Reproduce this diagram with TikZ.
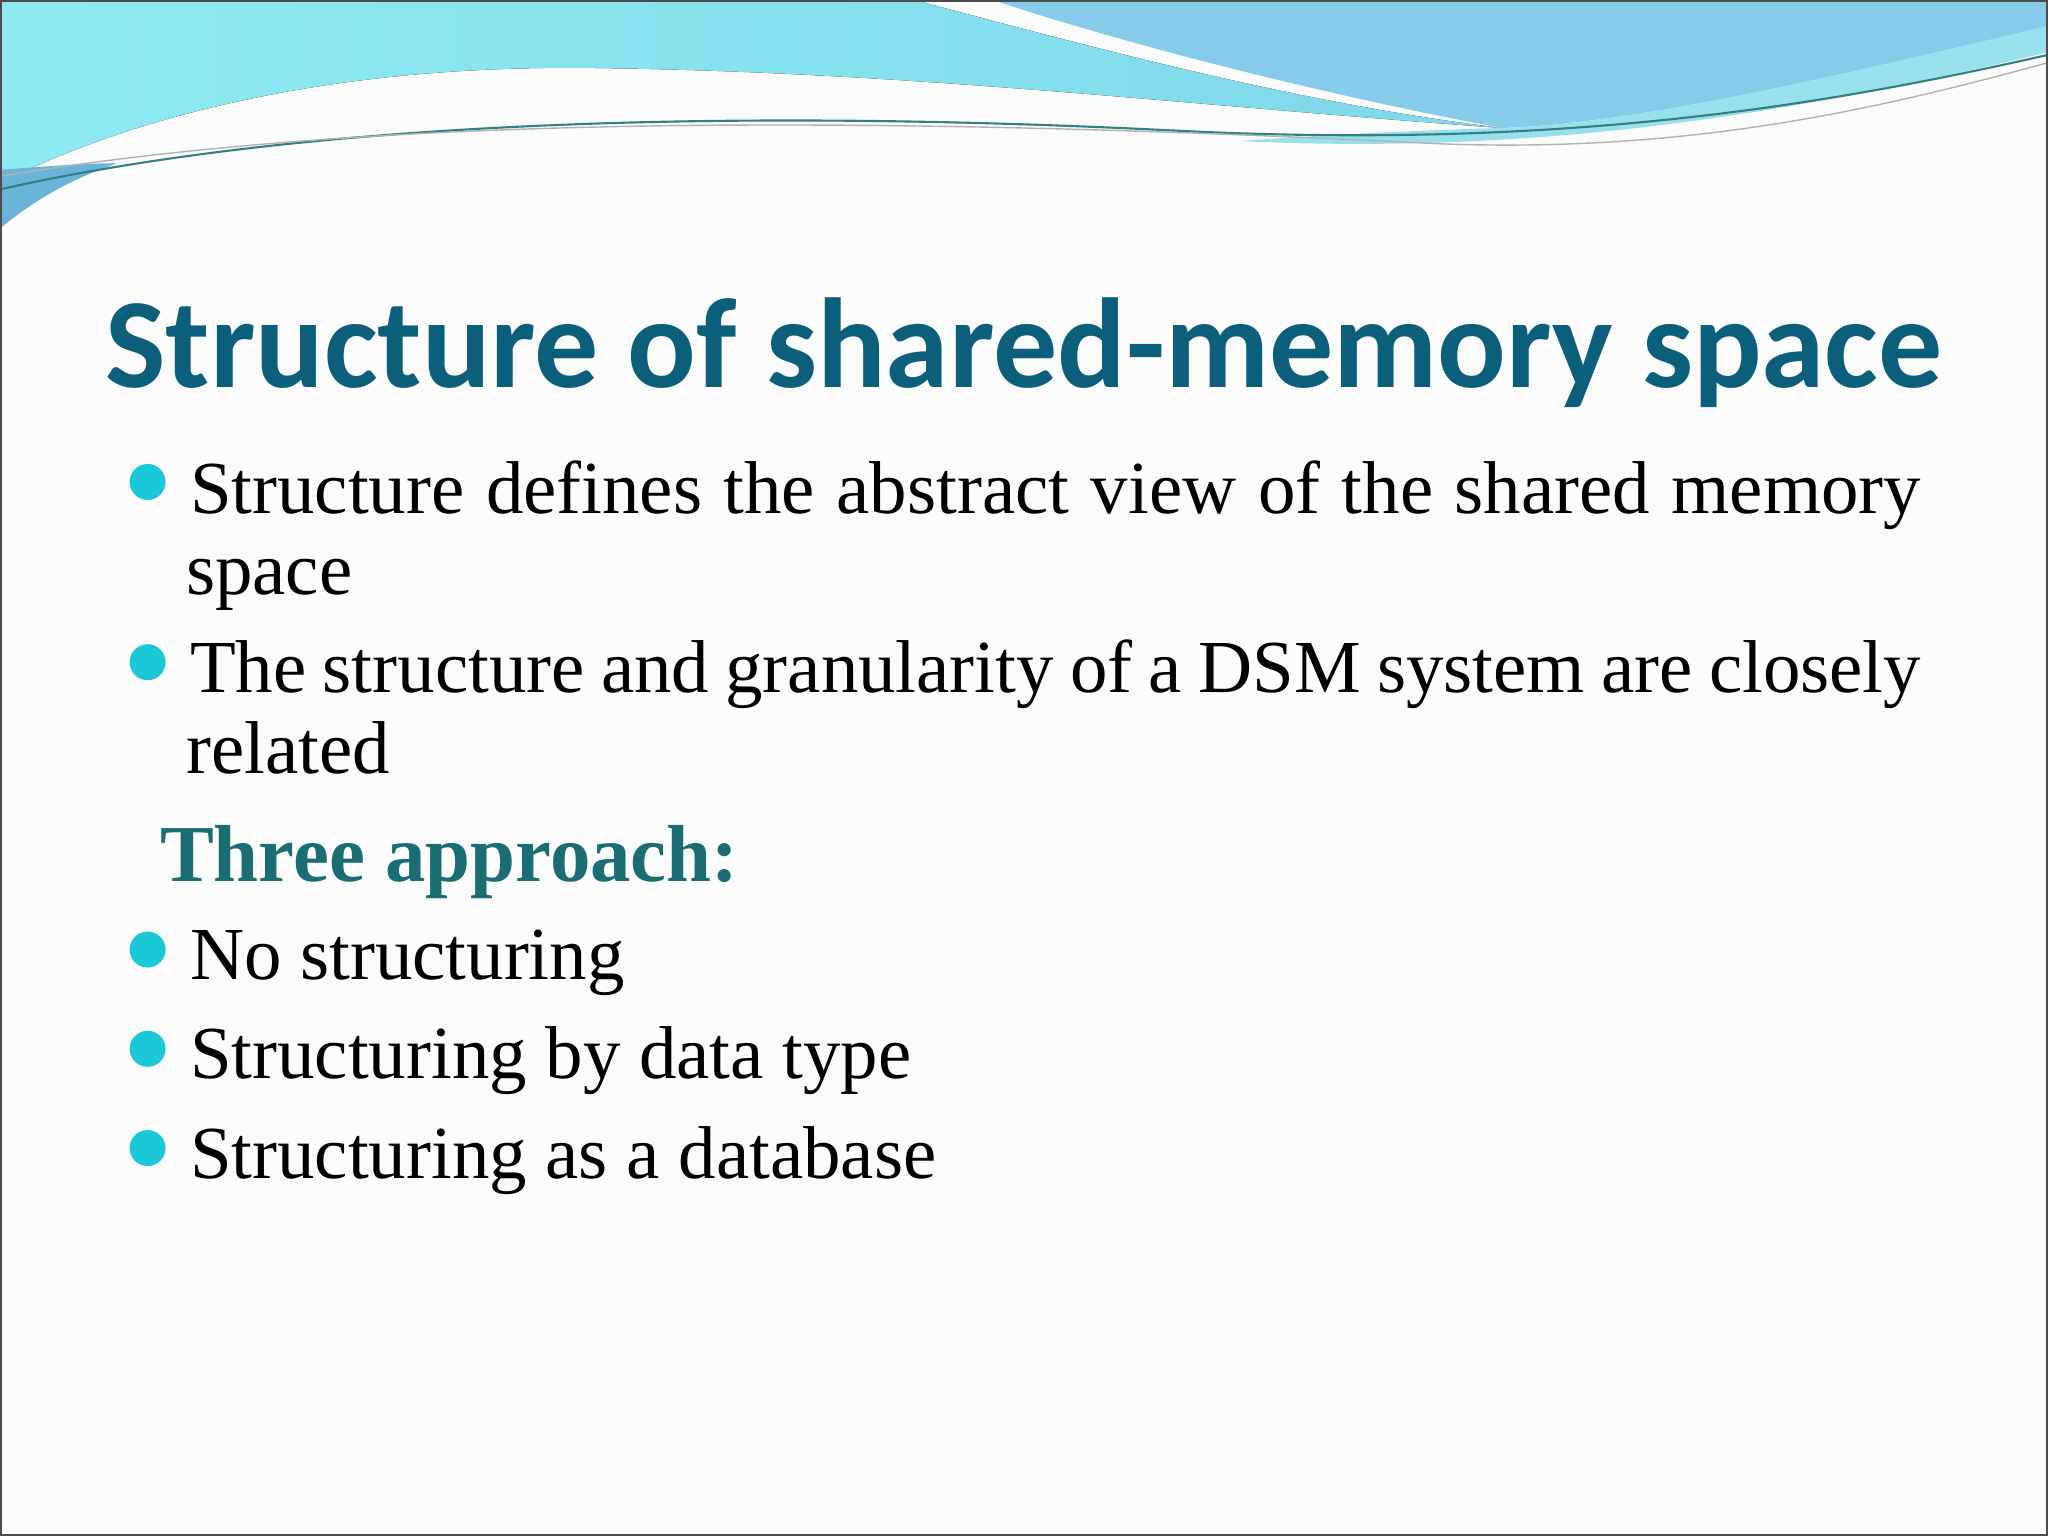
\documentclass[tikz,border=0pt]{standalone}
\usepackage{fontspec}
\setmainfont{Liberation Serif}
\newfontfamily\titlefont{Carlito}
\definecolor{titlec}{HTML}{0B5F7A}
\definecolor{subc}{HTML}{1A6E73}
\definecolor{bulc}{HTML}{1BC8D8}
\definecolor{cyanA}{HTML}{8EEAF2}
\definecolor{cyanB}{HTML}{7FD8EA}
\definecolor{blueA}{HTML}{86CCEA}
\definecolor{blueB}{HTML}{6AB4DA}
\tikzset{
  body/.style={anchor=base west,inner sep=0pt,font=\fontsize{21.3}{26}\selectfont},
  bul/.style={circle,fill=bulc,minimum size=0.36cm,inner sep=0pt}
}
\begin{document}
\begin{tikzpicture}[x=0.013061cm,y=-0.013061cm]
\fill[white!97!gray] (0,0) rectangle (1568,1176);
\useasboundingbox (0,0) rectangle (1568,1176);
% waves
\fill[left color=cyanA,right color=cyanB] (0,0) -- (700,0) .. controls (850,40) and (1000,80) .. (1150,98)
  .. controls (900,80) and (700,55) .. (450,52) .. controls (250,50) and (100,90) .. (0,140) -- cycle;
\fill[blueA] (760,0) -- (1568,0) -- (1568,20) .. controls (1400,60) and (1250,95) .. (1150,98)
  .. controls (1000,70) and (850,30) .. (760,0) -- cycle;
\fill[cyanB!80!white] (950,108) .. controls (1200,120) and (1400,80) .. (1568,40) -- (1568,20)
  .. controls (1400,60) and (1250,95) .. (1150,98) .. controls (1080,100) and (1000,104) .. (950,108) -- cycle;
\fill[blueB] (0,130) -- (0,175) .. controls (30,150) and (60,135) .. (90,125) .. controls (60,125) and (30,128) .. (0,130) -- cycle;
\draw[teal!60!gray,line width=0.6pt] (0,145) .. controls (200,100) and (500,80) .. (900,100) .. controls (1200,115) and (1400,80) .. (1568,42);
\draw[gray!60,line width=0.4pt] (0,135) .. controls (300,85) and (700,90) .. (1100,110) .. controls (1300,118) and (1450,80) .. (1568,48);
% title
\node[anchor=base west,inner sep=0pt,text=titlec,font=\titlefont\bfseries\fontsize{36.4}{40}\selectfont] (title) at (80,297) {Structure of shared-memory space};
% bullets
\node[bul] (b1) at (113,369) {};
\node[body] (t1) at (145,393) {\hbox to 17.31cm{Structure defines the abstract view of the shared memory}};
\node[body] (t1b) at (142,455) {space};
\node[bul] (b2) at (113,507) {};
\node[body] (t2) at (145,530) {\hbox to 17.31cm{The structure and granularity of a DSM system are closely}};
\node[body] (t2b) at (142,592) {related};
\node[anchor=base west,inner sep=0pt,text=subc,font=\bfseries\fontsize{23}{26}\selectfont] (three) at (122,675) {Three approach:};
\node[bul] (b3) at (113,727) {};
\node[body] (t3) at (145,750) {No structuring};
\node[bul] (b4) at (113,803) {};
\node[body] (t4) at (145,826) {Structuring by data type};
\node[bul] (b5) at (113,879) {};
\node[body] (t5) at (145,902) {Structuring as a database};
\draw[black!70,line width=0.8pt] (0.5,0.5) rectangle (1567.5,1175.5);
\end{tikzpicture}
\end{document}
